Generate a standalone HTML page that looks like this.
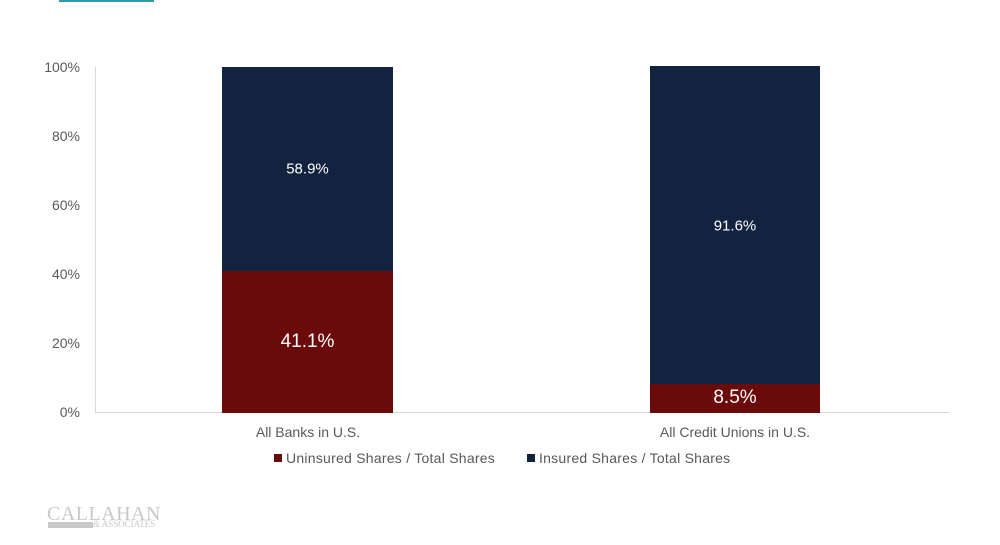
<!DOCTYPE html>
<html><head><style>
body{margin:0;width:1000px;height:545px;background:#fff;position:relative;font-family:"Liberation Sans",sans-serif;overflow:hidden}
.a{position:absolute}
.yl{position:absolute;right:920px;font-size:14px;color:#595959;transform:translateY(-50%)}
.lab{position:absolute;color:#fff;text-align:center;transform:translateY(-50%)}
</style></head><body>
<div class="a" style="left:59px;top:0;width:95px;height:2px;background:#2b9aa8"></div>
<div class="a" style="left:95px;top:67px;width:1px;height:346px;background:#d9d9d9"></div>
<div class="a" style="left:95px;top:412px;width:854px;height:1px;background:#d9d9d9"></div>
<div class="yl" style="top:67px">100%</div>
<div class="yl" style="top:136px">80%</div>
<div class="yl" style="top:205px">60%</div>
<div class="yl" style="top:274px">40%</div>
<div class="yl" style="top:343px">20%</div>
<div class="yl" style="top:412px">0%</div>
<div class="a" style="left:222px;top:67px;width:171px;height:204px;background:#12233f"></div>
<div class="a" style="left:222px;top:271px;width:171px;height:142px;background:#6b0a0a"></div>
<div class="a" style="left:650px;top:66px;width:170px;height:318px;background:#12233f"></div>
<div class="a" style="left:650px;top:384px;width:170px;height:29px;background:#6b0a0a"></div>
<div class="lab" style="left:222px;width:171px;top:169px;font-size:15px">58.9%</div>
<div class="lab" style="left:222px;width:171px;top:342px;font-size:19px">41.1%</div>
<div class="lab" style="left:650px;width:170px;top:226px;font-size:15px">91.6%</div>
<div class="lab" style="left:650px;width:170px;top:398px;font-size:19px">8.5%</div>
<div class="a" style="left:208px;width:200px;top:424px;text-align:center;font-size:14px;color:#595959">All Banks in U.S.</div>
<div class="a" style="left:635px;width:200px;top:424px;text-align:center;font-size:14px;color:#595959">All Credit Unions in U.S.</div>
<div class="a" style="left:274px;top:454px;width:8px;height:8px;background:#6b0a0a"></div>
<div class="a" style="left:286px;top:450px;font-size:14px;letter-spacing:0.25px;color:#595959">Uninsured Shares / Total Shares</div>
<div class="a" style="left:527px;top:454px;width:8px;height:8px;background:#12233f"></div>
<div class="a" style="left:539px;top:450px;font-size:14px;letter-spacing:0.25px;color:#595959">Insured Shares / Total Shares</div>
<div class="a" style="left:47px;top:503px;font-family:'Liberation Serif',serif;font-size:20px;color:#c8c8c8;letter-spacing:0.5px">CALLAHAN</div>
<div class="a" style="left:48px;top:522px;width:45px;height:6px;background:#c8c8c8"></div>
<div class="a" style="left:93px;top:519px;font-family:'Liberation Serif',serif;font-size:9px;color:#c8c8c8">&amp; ASSOCIATES</div>
</body></html>
